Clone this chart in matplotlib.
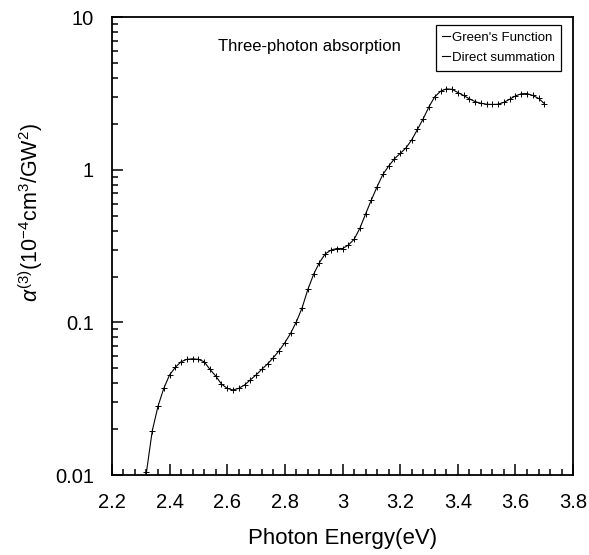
import matplotlib
matplotlib.use("Agg")
import matplotlib.pyplot as plt
from matplotlib.lines import Line2D
from matplotlib.ticker import FixedLocator, FuncFormatter, LogLocator, NullFormatter

# === Data ===
energy = [2.32, 2.34, 2.36, 2.38, 2.40, 2.42, 2.44, 2.46, 2.48, 2.50,
          2.52, 2.54, 2.56, 2.58, 2.60, 2.62, 2.64, 2.66, 2.68, 2.70,
          2.72, 2.74, 2.76, 2.78, 2.80, 2.82, 2.84, 2.86, 2.88, 2.90,
          2.92, 2.94, 2.96, 2.98, 3.00, 3.02, 3.04, 3.06, 3.08, 3.10,
          3.12, 3.14, 3.16, 3.18, 3.20, 3.22, 3.24, 3.26, 3.28, 3.30,
          3.32, 3.34, 3.36, 3.38, 3.40, 3.42, 3.44, 3.46, 3.48, 3.50,
          3.52, 3.54, 3.56, 3.58, 3.60, 3.62, 3.64, 3.66, 3.68, 3.70]
alpha3 = [0.0105, 0.0195, 0.0283, 0.037, 0.0453, 0.0508, 0.0553, 0.0573, 0.0578, 0.0573,
          0.0553, 0.0493, 0.0446, 0.0395, 0.037, 0.0361, 0.037, 0.0389, 0.042, 0.0453,
          0.0493, 0.0535, 0.0588, 0.0653, 0.0737, 0.0849, 0.101, 0.125, 0.165, 0.207,
          0.247, 0.281, 0.298, 0.305, 0.305, 0.321, 0.35, 0.413, 0.513, 0.634,
          0.775, 0.933, 1.057, 1.18, 1.28, 1.39, 1.57, 1.84, 2.16, 2.59,
          3.01, 3.27, 3.39, 3.37, 3.21, 3.07, 2.92, 2.80, 2.73, 2.69,
          2.68, 2.69, 2.77, 2.90, 3.05, 3.15, 3.16, 3.07, 2.94, 2.72]

x_ticks = [2.2, 2.4, 2.6, 2.8, 3.0, 3.2, 3.4, 3.6, 3.8]
y_ticks = [0.01, 0.1, 1, 10]
y_tick_labels = ["0.01", "0.1", "1", "10"]

# === Style ===
plt.rcParams["font.family"] = ["Liberation Sans", "DejaVu Sans"]
plt.rcParams["mathtext.fontset"] = "custom"
plt.rcParams["mathtext.rm"] = "Liberation Sans"
plt.rcParams["mathtext.it"] = "Liberation Sans:italic"

fig = plt.figure(figsize=(5.89, 5.55), dpi=100)
ax = fig.add_axes([0.190, 0.144, 0.783, 0.825])

# === Plot ===
ax.plot(energy, alpha3, color="black", lw=0.8)
ax.plot(energy, alpha3, ls="none", marker="+", ms=4, mew=0.7, color="black")

ax.set_yscale("log")
ax.set_xlim(2.2, 3.8)
ax.set_ylim(0.01, 10)

ax.xaxis.set_major_locator(FixedLocator(x_ticks))
ax.xaxis.set_minor_locator(FixedLocator([2.2 + 0.04 * i for i in range(41)]))
ax.xaxis.set_major_formatter(FuncFormatter(lambda v, p: f"{v:g}"))
ax.yaxis.set_major_locator(FixedLocator(y_ticks))
ax.yaxis.set_major_formatter(FuncFormatter(
    lambda v, p: y_tick_labels[y_ticks.index(min(y_ticks, key=lambda t: abs(t - v)))]))
ax.yaxis.set_minor_locator(LogLocator(base=10, subs=range(2, 10)))
ax.yaxis.set_minor_formatter(NullFormatter())

ax.tick_params(which="both", direction="in", top=False, right=False,
               labelsize=14.5, pad=13, width=1.1)
ax.tick_params(which="major", length=8)
ax.tick_params(which="minor", length=4.5)
for s in ax.spines.values():
    s.set_linewidth(1.3)

ax.set_xlabel("Photon Energy(eV)", fontsize=16)
ax.xaxis.set_label_coords(0.5, -0.116)
ax.xaxis.label.set_va("top")
ax.set_ylabel(r"$\alpha^{(3)}$(10$^{-4}$cm$^3$/GW$^2$)", fontsize=15.5)
ax.yaxis.set_label_coords(-0.145, 0.574)

ax.text(0.23, 0.935, "Three-photon absorption", transform=ax.transAxes,
        fontsize=12, ha="left", va="center")

# legend: both entries drawn as short plain lines
handles = [Line2D([], [], color="black", lw=0.8),
           Line2D([], [], color="black", lw=0.8)]
leg = ax.legend(handles, ["Green's Function", "Direct summation"],
                loc="upper right", bbox_to_anchor=(0.974, 0.983),
                fontsize=9.5, handlelength=0.6, handletextpad=0.1,
                borderpad=0.5, labelspacing=0.6, fancybox=False,
                framealpha=1, edgecolor="black", borderaxespad=0)
leg.get_frame().set_linewidth(0.9)

fig.savefig("out.png", dpi=100)
